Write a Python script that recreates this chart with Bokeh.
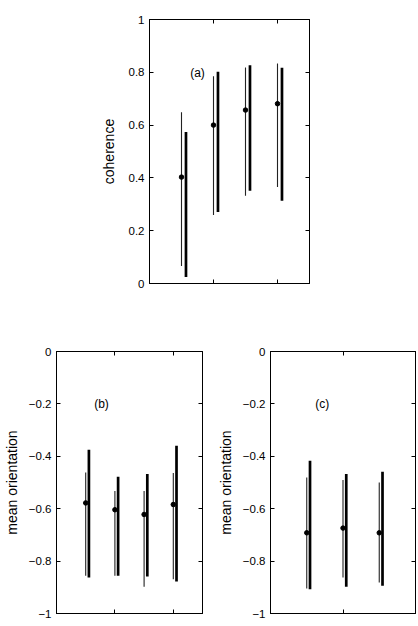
from bokeh.plotting import figure
from bokeh.models import Range1d, FixedTicker, LinearAxis, CustomJSTickFormatter
from bokeh.layouts import column, row
from bokeh.embed import file_html
from bokeh.resources import INLINE
from bokeh.core.properties import value

# ---- data ----
a_mean = [0.403, 0.600, 0.657, 0.681]
a_thin_lo = [0.066, 0.259, 0.332, 0.366]
a_thin_hi = [0.649, 0.785, 0.818, 0.833]
a_thick_lo = [0.025, 0.271, 0.351, 0.313]
a_thick_hi = [0.574, 0.802, 0.827, 0.817]

b_mean = [-0.578, -0.604, -0.622, -0.584]
b_thin_lo = [-0.856, -0.856, -0.898, -0.869]
b_thin_hi = [-0.462, -0.532, -0.532, -0.464]
b_thick_lo = [-0.863, -0.856, -0.859, -0.878]
b_thick_hi = [-0.375, -0.478, -0.468, -0.360]

c_mean = [-0.692, -0.674, -0.692]
c_thin_lo = [-0.905, -0.863, -0.882]
c_thin_hi = [-0.481, -0.490, -0.500]
c_thick_lo = [-0.907, -0.898, -0.894]
c_thick_hi = [-0.417, -0.468, -0.459]

a_yticks = [0, 0.2, 0.4, 0.6, 0.8, 1]
bc_yticks = [-1, -0.8, -0.6, -0.4, -0.2, 0]
x_ticks = [0, 2, 4]

FONT = "Liberation Sans"

num_fmt = CustomJSTickFormatter(code="""
var r = Math.round(tick);
var s = (Math.abs(tick - r) < 1e-9) ? r.toString() : tick.toFixed(1);
if (s == '-0') { s = '0'; }
return s.replace('-', '\u2212');
""")


def blank():
    return CustomJSTickFormatter(code="return '';")


def panel(xmax, yr, yticks, ylabel, tag, tagx, tagy, means, tlo, thi, klo, khi, off,
          w, h, bl, br, bt, bb, lab_standoff):
    p = figure(width=w, height=h,
               x_range=Range1d(0, xmax), y_range=Range1d(*yr),
               output_backend="svg", toolbar_location=None,
               min_border_left=bl, min_border_right=br,
               min_border_top=bt, min_border_bottom=bb)
    p.xgrid.visible = False
    p.ygrid.visible = False
    p.outline_line_color = "black"
    p.outline_line_alpha = 1
    p.background_fill_color = "white"
    p.border_fill_color = "white"

    ya = p.yaxis[0]
    ya.ticker = FixedTicker(ticks=yticks)
    ya.formatter = num_fmt
    ya.major_tick_in = 4
    ya.major_tick_out = 0
    ya.minor_tick_line_color = None
    ya.axis_line_color = "black"
    ya.major_tick_line_color = "black"
    ya.major_label_text_font = FONT
    ya.major_label_text_font_size = "11.5px"
    ya.major_label_text_color = "black"
    ya.major_label_standoff = 5
    ya.axis_label = ylabel
    ya.axis_label_text_font = FONT
    ya.axis_label_text_font_size = "14px"
    ya.axis_label_text_font_style = "normal"
    ya.axis_label_text_color = "black"
    ya.axis_label_standoff = lab_standoff

    xa = p.xaxis[0]
    xa.ticker = FixedTicker(ticks=x_ticks)
    xa.formatter = blank()
    xa.major_tick_in = 4
    xa.major_tick_out = 0
    xa.minor_tick_line_color = None
    xa.axis_line_color = "black"
    xa.major_tick_line_color = "black"
    xa.major_label_standoff = 0
    xa.major_label_text_font_size = "0px"

    ra = LinearAxis(ticker=FixedTicker(ticks=yticks), formatter=blank(),
                    major_tick_in=4, major_tick_out=0, minor_tick_line_color=None,
                    axis_line_color="black", major_tick_line_color="black",
                    major_label_standoff=0, major_label_text_font_size="0px")
    p.add_layout(ra, "right")
    ta = LinearAxis(ticker=FixedTicker(ticks=x_ticks), formatter=blank(),
                    major_tick_in=4, major_tick_out=0, minor_tick_line_color=None,
                    axis_line_color="black", major_tick_line_color="black",
                    major_label_standoff=0, major_label_text_font_size="0px")
    p.add_layout(ta, "above")

    n = len(means)
    xs = [i + 1 for i in range(n)]
    xk = [i + 1 + off for i in range(n)]
    p.segment(x0=xs, y0=tlo, x1=xs, y1=thi, line_color="#222222", line_width=1.1)
    p.segment(x0=xk, y0=klo, x1=xk, y1=khi, line_color="black", line_width=2.7)
    p.scatter(x=xs, y=means, size=4.5, color="black")
    p.text(x=[tagx], y=[tagy], text=[tag], text_font=value(FONT),
           text_font_size=value("12px"), text_align="center",
           text_baseline="middle", text_color="black")
    return p


pa = panel(5, (0, 1), a_yticks, "coherence", "(a)", 1.5, 0.797,
           a_mean, a_thin_lo, a_thin_hi, a_thick_lo, a_thick_hi, 0.14,
           418, 320, 149, 109, 19, 37, 9)
pb = panel(5, (-1, 0), bc_yticks, "mean orientation", "(b)", 1.54, -0.2,
           b_mean, b_thin_lo, b_thin_hi, b_thick_lo, b_thick_hi, 0.11,
           214, 306, 53, 12, 31, 13, 6)
pc = panel(4, (-1, 0), bc_yticks, "mean orientation", "(c)", 1.43, -0.2,
           c_mean, c_thin_lo, c_thin_hi, c_thick_lo, c_thick_hi, 0.09,
           204, 306, 55, 3, 31, 13, 6)

layout = column(pa, row(pb, pc))
open("out.html", "w").write(file_html(layout, INLINE))
